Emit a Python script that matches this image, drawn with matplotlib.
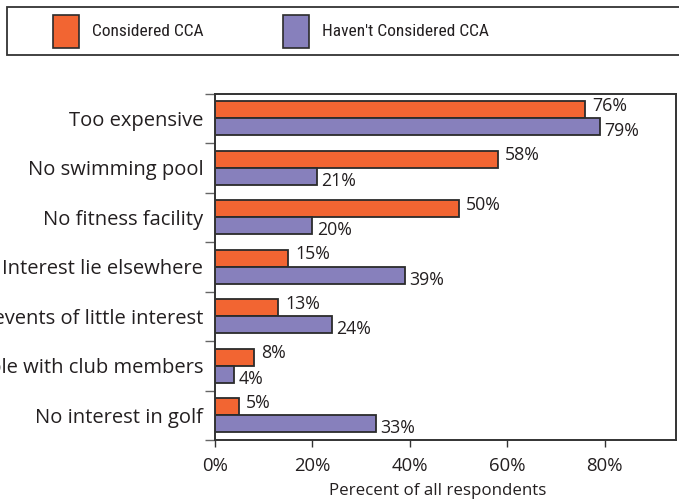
import matplotlib
matplotlib.use("Agg")
import matplotlib.pyplot as plt
from matplotlib import font_manager
from matplotlib.patches import Rectangle
import numpy as np

categories = [
    "Too expensive",
    "No swimming pool",
    "No fitness facility",
    "Interest lie elsewhere",
    "Social events of little interest",
    "Not compatible with club members",
    "No interest in golf",
]
considered = [76, 58, 50, 15, 13, 8, 5]
not_considered = [79, 21, 20, 39, 24, 4, 33]
series_names = ["Considered CCA", "Haven't Considered CCA"]
x_ticks = [0, 20, 40, 60, 80]
x_label = "Perecent of all respondents"

ORANGE = "#F26532"
PURPLE = "#8780BC"
EDGE = "#2b2b2b"
TEXT = "#231F20"

plt.rcParams["font.family"] = ["Open Sans", "DejaVu Sans"]

# narrow face for the legend strip, if one is installed
names = {f.name for f in font_manager.fontManager.ttflist}
narrow = next((n for n in ["Liberation Sans Narrow", "DejaVu Sans Condensed", "Roboto Condensed",
                           "Open Sans Condensed", "Liberation Sans"] if n in names), "DejaVu Sans")

W, H = 679, 499
fig = plt.figure(figsize=(W / 100, H / 100), dpi=100)
ax = fig.add_axes([215 / W, 59 / H, (676 - 215) / W, (440 - 93.5) / H])

y = np.arange(len(categories))
bh = 0.34
ax.barh(y - 0.17, considered, height=bh, color=ORANGE, edgecolor=EDGE, linewidth=1.3)
ax.barh(y + 0.17, not_considered, height=bh, color=PURPLE, edgecolor=EDGE, linewidth=1.3)

for yi, v in zip(y, considered):
    ax.annotate(f"{v}%", (v, yi - 0.17), xytext=(5, 3), textcoords="offset points",
                ha="left", va="center", fontsize=12.8, color=TEXT)
for yi, v in zip(y, not_considered):
    ax.annotate(f"{v}%", (v, yi + 0.17), xytext=(3, -3.2), textcoords="offset points",
                ha="left", va="center", fontsize=12.8, color=TEXT)

ax.set_xlim(0, 94.6)
ax.set_ylim(len(categories) - 0.5, -0.5)

ax.set_yticks(y)
ax.set_yticklabels(categories, fontsize=14.5, color=TEXT)
ax.tick_params(axis="y", which="major", length=0, pad=8.5)
ax.set_yticks(np.arange(-0.5, len(categories), 1.0), minor=True)
ax.tick_params(axis="y", which="minor", length=7, width=1.0, color="#666666", direction="out")

ax.set_xticks(x_ticks)
ax.set_xticklabels([f"{t}%" for t in x_ticks], fontsize=13.3, color=TEXT)
ax.tick_params(axis="x", length=5, width=1.0, color="#333333", pad=7)
ax.set_xlabel(x_label, fontsize=12.2, color=TEXT, va="center")
ax.xaxis.set_label_coords(0.484, -0.147)

for s in ax.spines.values():
    s.set_color("#333333")
    s.set_linewidth(1.4)

# Legend strip across the top of the figure
frame = Rectangle((7 / W, 1 - 55 / H), (W + 10) / W, 48 / H, transform=fig.transFigure,
                  facecolor="white", edgecolor="#333333", linewidth=1.3, clip_on=False)
fig.add_artist(frame)
for x0, color, name in [(53, ORANGE, series_names[0]), (283, PURPLE, series_names[1])]:
    fig.add_artist(Rectangle((x0 / W, 1 - 48 / H), 26 / W, 33 / H, transform=fig.transFigure,
                             facecolor=color, edgecolor=EDGE, linewidth=1.2))
    fig.text((x0 + 39) / W, 1 - 31 / H, name, fontsize=12.5, color=TEXT,
             family=[narrow, "DejaVu Sans"], ha="left", va="center")

fig.savefig("out.png", dpi=100)
